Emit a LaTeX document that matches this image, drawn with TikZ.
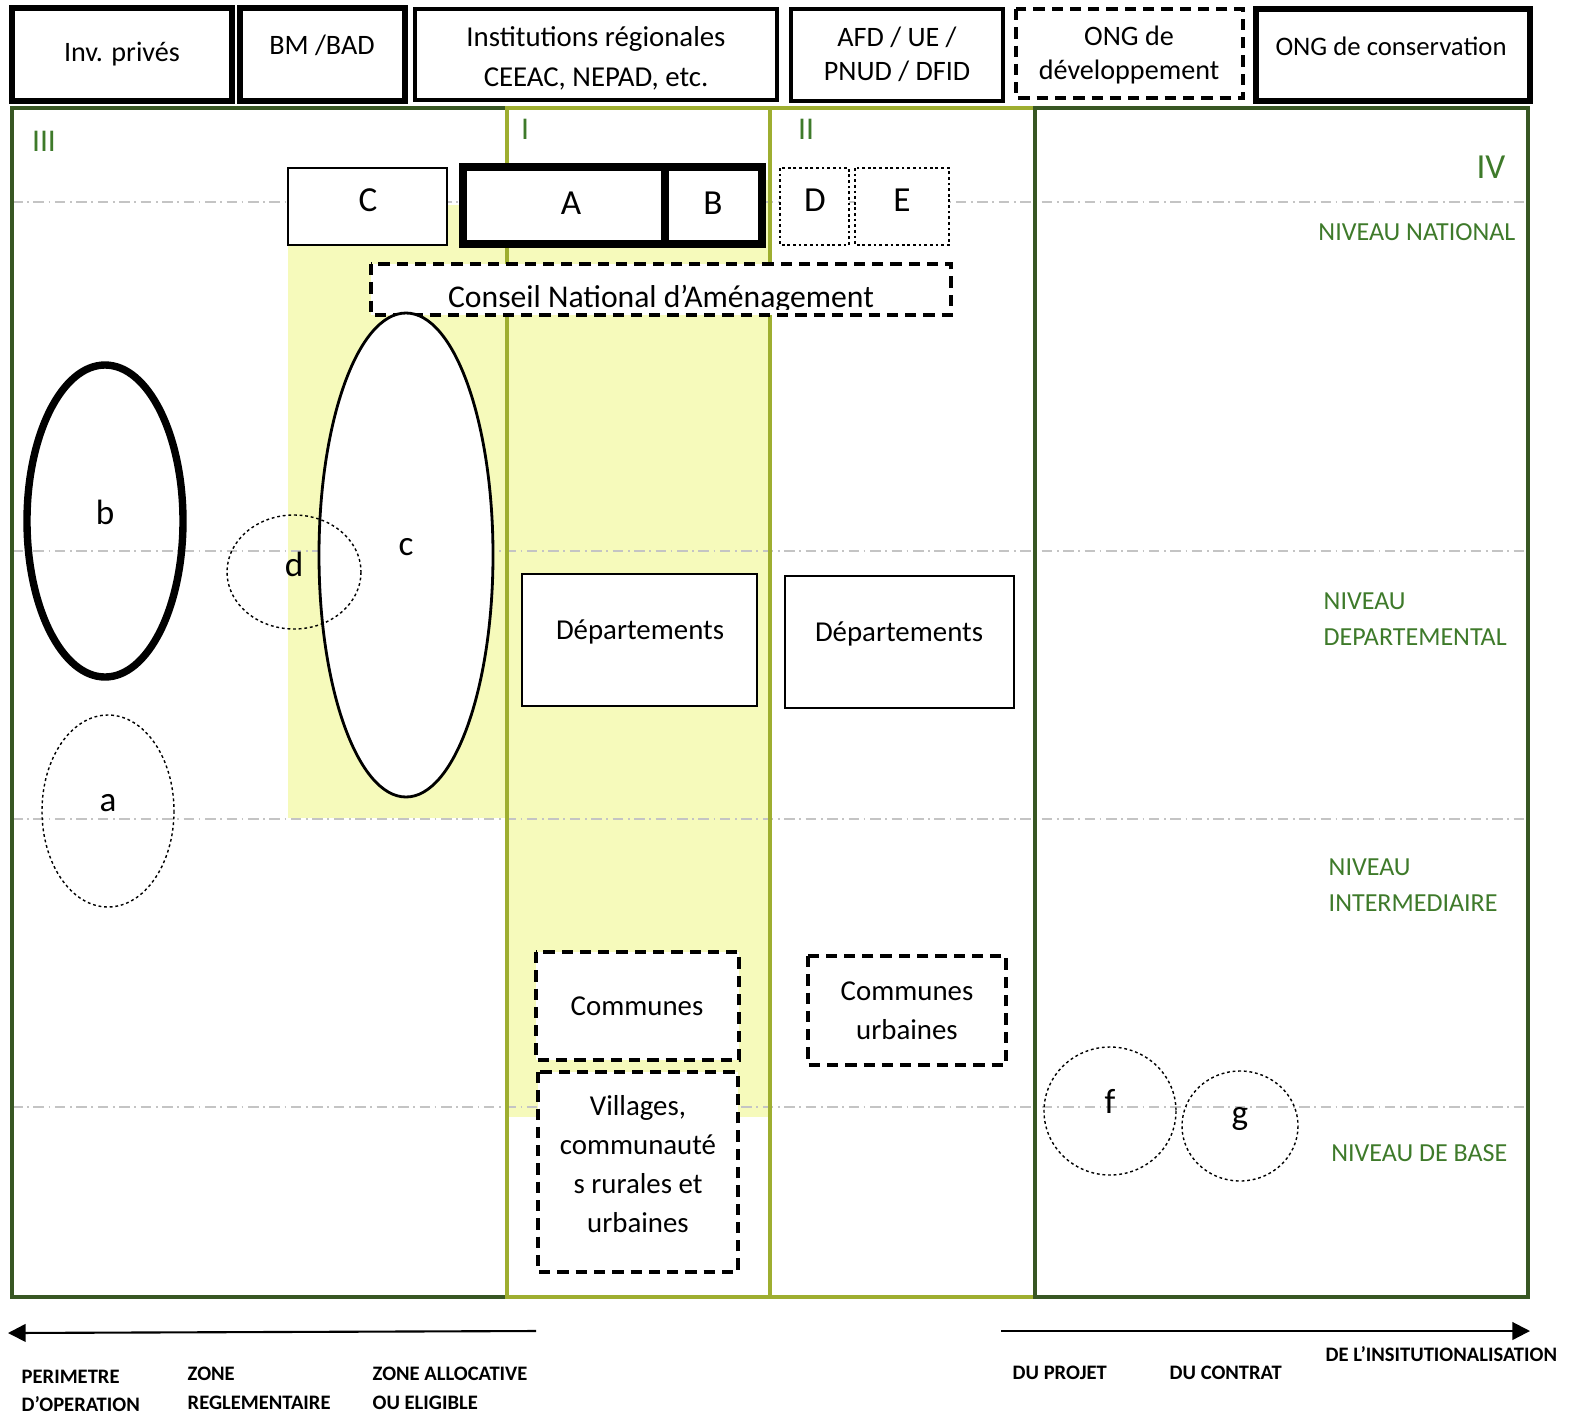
\documentclass[tikz,border=0pt]{standalone}
\usepackage{fontspec}
\setmainfont{Carlito}
\usetikzlibrary{arrows.meta}

\definecolor{darkgreen}{RGB}{56,87,35}
\definecolor{olivegreen}{RGB}{158,174,48}
\definecolor{labelgreen}{RGB}{62,122,42}
\definecolor{paleyellow}{RGB}{246,250,187}
\definecolor{levelgray}{RGB}{196,196,196}

\tikzset{
  heavybox/.style={draw, line width=1.7pt, fill=white},
  heaviest/.style={draw, line width=2.1pt, fill=white},
  plainbox/.style={draw, line width=1pt, fill=white},
  thinbox/.style={draw, line width=0.4pt, fill=white},
  deptbox/.style={draw, line width=0.8pt, fill=white},
  dashbox/.style={draw, line width=1pt, fill=white, dash pattern=on 3.2pt off 2pt},
  dotbox/.style={draw, line width=0.4pt, dash pattern=on 0.8pt off 0.8pt},
  colline/.style={line width=0.9pt},
  levelline/.style={draw=levelgray, line width=0.5pt, dash pattern=on 3pt off 1.3pt on 0.5pt off 1.3pt},
  toptext/.style={font=\fontsize{8}{10.5}\selectfont, align=center},
  bigletter/.style={font=\fontsize{10}{12}\selectfont},
  inner/.style={font=\fontsize{8.2}{11}\selectfont, align=center},
  levellabel/.style={font=\fontsize{7.4}{10.2}\selectfont, text=labelgreen, align=left, inner sep=0pt},
  roman/.style={font=\fontsize{9}{10}\selectfont, text=labelgreen},
  axislabel/.style={font=\fontsize{5.85}{8.2}\selectfont\bfseries, align=left, anchor=north west, inner sep=0pt},
}

\begin{document}
\begin{tikzpicture}[x=0.01cm, y=-0.01cm]
  \useasboundingbox (0,0) rectangle (1570,1415);
  % pale yellow zone
  \fill[paleyellow] (288,205) rectangle (507,818);
  \fill[paleyellow] (507,180) rectangle (770,1117);
  % level separators
  \foreach \y in {202,551,819,1107}
    \draw[levelline] (12,\y) -- (1528,\y);
  % columns III, I, II, IV
  \draw[darkgreen, colline] (12,108) rectangle (507,1297);
  \draw[olivegreen, colline] (507,108) rectangle (770,1297);
  \draw[olivegreen, colline] (770,108) rectangle (1035,1297);
  \draw[darkgreen, colline] (1035,108) rectangle (1528,1297);
  \node[roman] (iii) at (44,141) {III};
  \node[roman] (i) at (525,129) {I};
  \node[roman] (ii) at (806,129) {II};
  \node[roman, font=\fontsize{10}{11}\selectfont] (iv) at (1491,167) {IV};

  % donors row
  \draw[heavybox] (12,8) rectangle (232,101);
  \node[toptext] (inv) at (122,54) {Inv. privés};
  \draw[heavybox] (240,8) rectangle (405,101);
  \node[toptext] (bm) at (322,45) {BM /BAD};
  \draw[plainbox] (415,9) rectangle (777,100);
  \node[toptext, font=\fontsize{8.2}{11.3}\selectfont] (inst) at (596,58) {Institutions régionales\\CEEAC, NEPAD, etc.};
  \draw[plainbox] (791,9) rectangle (1003,101);
  \node[toptext, font=\fontsize{8}{9.7}\selectfont] (afd) at (897,54) {AFD / UE /\\PNUD / DFID};
  \draw[dashbox] (1016,9) rectangle (1243,98);
  \node[toptext, font=\fontsize{8}{9.9}\selectfont] (ongdev) at (1129,55) {ONG de\\développement};
  \draw[heavybox] (1256,9) rectangle (1530,101);
  \node[toptext, font=\fontsize{7.6}{10}\selectfont] (ongcons) at (1391,46) {ONG de conservation};

  % national level
  \draw[thinbox] (288,168) rectangle (447,245);
  \node[bigletter] (C) at (368,200) {C};
  \draw[heaviest] (463,167) rectangle (665,244);
  \node[bigletter] (A) at (571,203) {A};
  \draw[heaviest] (665,167) rectangle (762,244);
  \node[bigletter] (B) at (713,203) {B};
  \draw[thinbox, dotbox] (780,168) rectangle (849,245);
  \node[bigletter] (D) at (815,200) {D};
  \draw[thinbox, dotbox] (855,168) rectangle (949,245);
  \node[bigletter] (E) at (902,200) {E};
  \draw[dashbox] (371,264) rectangle (951,315);
  \begin{scope}
    \clip (373,266) rectangle (949,309);
    \node[font=\fontsize{9}{10}\selectfont, anchor=base] (cna) at (661,307) {Conseil National d’Aménagement};
  \end{scope}
  \node[levellabel, anchor=east] (natl) at (1516,232) {NIVEAU NATIONAL};

  % ellipses of column III
  \draw[line width=2.1pt] (105,521) ellipse [x radius=78, y radius=156];
  \node[bigletter] (b) at (105,512) {b};
  \draw[dotbox] (108,811) ellipse [x radius=66, y radius=96];
  \node[bigletter] (a) at (108,803) {a};
  \draw[line width=0.8pt, fill=white] (406,555) ellipse [x radius=87, y radius=242];
  \node[bigletter] (c) at (406,547) {c};
  \draw[dotbox] (294,572) ellipse [x radius=67, y radius=57];
  \node[bigletter] (d) at (294,564) {d};

  % departmental level
  \draw[deptbox] (522,574) rectangle (757,706);
  \node[inner] (depti) at (640,632) {Départements};
  \draw[deptbox] (785,576) rectangle (1014,708);
  \node[inner] (deptii) at (899,634) {Départements};
  \node[levellabel, anchor=north west] (dept) at (1323,592) {NIVEAU\\DEPARTEMENTAL};
  \node[levellabel, anchor=north west] (inter) at (1328,858) {NIVEAU\\INTERMEDIAIRE};

  % communes and villages
  \draw[dashbox] (536,952) rectangle (739,1060);
  \node[inner] (comm) at (637,1006) {Communes};
  \draw[dashbox] (538,1072) rectangle (738,1272);
  \node[inner, font=\fontsize{8.2}{11.1}\selectfont] (vill) at (638,1164) {Villages,\\communauté\\s rurales et\\urbaines};
  \draw[dashbox] (808,956) rectangle (1006,1065);
  \node[inner, font=\fontsize{8.2}{11.1}\selectfont] (commurb) at (907,1011) {Communes\\urbaines};

  % base level, column IV
  \draw[dotbox] (1110,1111) ellipse [x radius=66, y radius=64];
  \node[bigletter] (f) at (1110,1101) {f};
  \draw[dotbox] (1240,1126) ellipse [x radius=58, y radius=55];
  \node[bigletter] (g) at (1240,1119) {g};
  \node[levellabel, anchor=east] (base) at (1508,1153) {NIVEAU DE BASE};

  % axes under the frame
  \coordinate (leftfrom) at (536,1331);
  \coordinate (leftto) at (8,1333);
  \coordinate (rightfrom) at (1001,1331);
  \coordinate (rightto) at (1530,1331);
  \draw[line width=0.6pt, -{Triangle[length=5pt, width=5pt]}] (leftfrom) -- (leftto);
  \draw[line width=0.6pt, -{Triangle[length=5pt, width=5pt]}] (rightfrom) -- (rightto);
  \node[axislabel] (perim) at (21,1369) {PERIMETRE\\D’OPERATION};
  \node[axislabel] (regl) at (187,1366) {ZONE\\REGLEMENTAIRE};
  \node[axislabel] (alloc) at (372,1366) {ZONE ALLOCATIVE\\OU ELIGIBLE};
  \node[axislabel] (projet) at (1012,1365) {DU PROJET};
  \node[axislabel] (contrat) at (1169,1365) {DU CONTRAT};
  \node[axislabel] (instit) at (1325,1346) {DE L’INSITUTIONALISATION};
\end{tikzpicture}
\end{document}
